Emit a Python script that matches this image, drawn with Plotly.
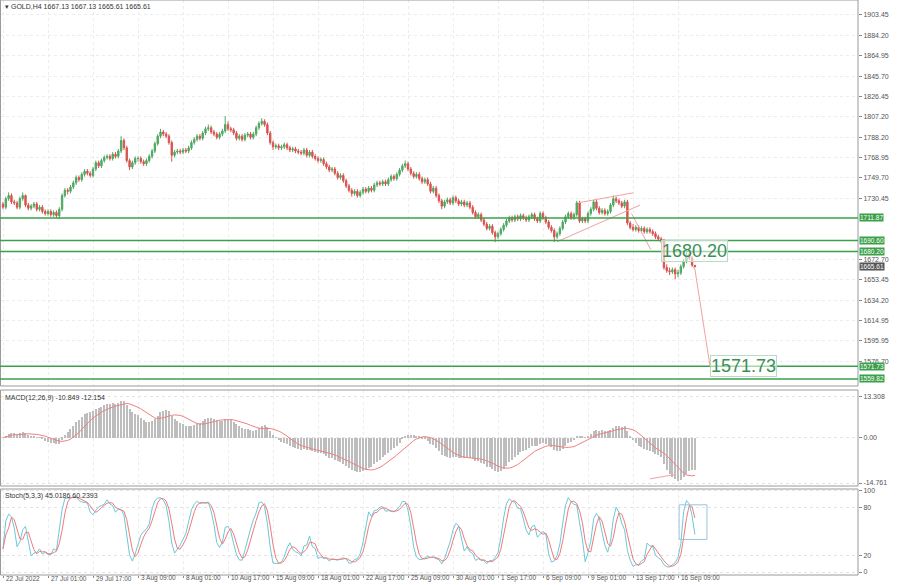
import numpy as np
import plotly.graph_objects as go

# ---------------- data (H4 bars) ----------------
opens = [1725,1722,1730,1733,1727,1726,1722,1730,1733,1724,
 1721,1723,1725,1720,1722,1718,1716,1718,1715,1717,
 1714,1720,1733,1738,1737,1741,1745,1750,1748,1753,
 1756,1754,1752,1758,1764,1761,1766,1769,1770,1768,
 1772,1770,1775,1785,1778,1766,1760,1764,1768,1768,
 1765,1763,1766,1770,1775,1782,1789,1793,1791,1789,
 1783,1771,1774,1775,1774,1776,1775,1778,1783,1786,
 1789,1787,1792,1796,1797,1793,1791,1788,1791,1794,
 1800,1796,1795,1792,1787,1789,1786,1790,1791,1788,
 1791,1797,1801,1803,1800,1792,1783,1779,1780,1778,
 1779,1781,1778,1776,1777,1775,1774,1773,1776,1771,
 1774,1770,1768,1766,1767,1763,1760,1757,1758,1754,
 1750,1752,1747,1742,1738,1735,1737,1733,1736,1739,
 1737,1740,1738,1743,1745,1744,1746,1744,1748,1751,
 1749,1753,1757,1761,1763,1758,1754,1751,1753,1749,
 1746,1748,1744,1737,1740,1733,1728,1723,1727,1729,
 1726,1731,1728,1725,1727,1724,1726,1722,1717,1713,
 1715,1710,1706,1702,1704,1698,1694,1697,1701,1705,
 1709,1712,1710,1713,1711,1714,1712,1710,1713,1715,
 1711,1709,1716,1712,1708,1703,1700,1694,1697,1702,
 1708,1713,1716,1712,1715,1726,1709,1711,1709,1716,
 1720,1727,1721,1717,1719,1716,1718,1724,1730,1728,
 1726,1723,1727,1707,1703,1701,1703,1700,1702,1699,
 1701,1699,1697,1694,1692,1690,1665,1662,1661,1663,
 1659,1660,1666,1671,1677,1674,1667.13]

highs = [1727,1732,1736,1735,1729,1728,1732,1736,1734,1726,
 1725,1727,1727,1724,1724,1720,1720,1720,1719,1719,
 1722,1735,1740,1740,1743,1747,1752,1752,1755,1758,
 1758,1756,1760,1766,1766,1768,1771,1772,1772,1774,
 1774,1777,1789,1787,1780,1768,1766,1770,1770,1770,
 1767,1768,1772,1777,1784,1791,1796,1795,1793,1791,
 1785,1776,1777,1777,1778,1778,1780,1785,1788,1791,
 1791,1794,1798,1800,1799,1795,1793,1793,1796,1808,
 1803,1798,1797,1794,1791,1791,1792,1793,1793,1793,
 1799,1803,1806,1805,1802,1794,1785,1782,1782,1781,
 1783,1783,1780,1779,1779,1777,1776,1778,1778,1776,
 1776,1772,1770,1769,1769,1765,1762,1760,1760,1756,
 1754,1754,1749,1744,1740,1739,1739,1738,1741,1741,
 1742,1742,1745,1747,1747,1748,1748,1750,1753,1753,
 1755,1759,1763,1766,1765,1760,1756,1755,1755,1751,
 1750,1750,1746,1742,1742,1735,1730,1729,1731,1731,
 1733,1733,1730,1729,1729,1728,1728,1724,1719,1717,
 1717,1712,1708,1706,1706,1700,1699,1703,1707,1711,
 1714,1714,1715,1715,1716,1716,1714,1715,1717,1717,
 1713,1718,1718,1714,1710,1705,1702,1699,1704,1710,
 1715,1718,1718,1717,1728,1728,1713,1713,1718,1722,
 1729,1729,1723,1721,1721,1720,1726,1733,1732,1730,
 1728,1729,1729,1709,1706,1705,1705,1704,1704,1703,
 1703,1701,1699,1696,1694,1692,1668,1665,1665,1665,
 1663,1668,1673,1680,1680,1676,1667.13]

lows = [1720,1720,1728,1725,1724,1720,1720,1728,1722,1719,
 1719,1721,1718,1718,1716,1714,1714,1713,1713,1712,
 1711,1718,1731,1734,1735,1739,1743,1746,1746,1751,
 1752,1750,1750,1756,1759,1759,1764,1767,1766,1766,
 1768,1768,1773,1776,1764,1757,1758,1762,1765,1763,
 1761,1761,1764,1768,1773,1780,1787,1789,1787,1781,
 1765,1769,1772,1772,1772,1773,1773,1776,1781,1784,
 1785,1785,1790,1794,1791,1789,1786,1786,1789,1792,
 1794,1793,1790,1785,1785,1784,1784,1788,1786,1786,
 1789,1795,1799,1798,1790,1781,1776,1777,1776,1776,
 1777,1776,1774,1774,1773,1772,1771,1771,1769,1769,
 1768,1766,1764,1764,1761,1758,1755,1755,1752,1748,
 1748,1745,1740,1736,1732,1733,1731,1731,1734,1735,
 1735,1736,1736,1741,1742,1742,1742,1742,1746,1747,
 1747,1751,1755,1759,1756,1752,1749,1749,1747,1744,
 1744,1742,1735,1735,1731,1726,1720,1721,1725,1724,
 1724,1726,1723,1723,1722,1722,1720,1715,1711,1711,
 1708,1704,1700,1700,1696,1689,1692,1695,1699,1703,
 1707,1708,1708,1709,1709,1710,1708,1708,1711,1709,
 1707,1707,1710,1706,1701,1698,1689,1692,1695,1700,
 1706,1711,1710,1710,1713,1707,1707,1707,1707,1714,
 1718,1719,1715,1715,1714,1714,1716,1722,1726,1724,
 1721,1721,1705,1701,1699,1699,1698,1698,1697,1697,
 1697,1695,1692,1690,1688,1663,1660,1658,1659,1654,
 1656,1658,1664,1669,1672,1666,1665.61]

closes = [1722,1730,1733,1727,1726,1722,1730,1733,1724,1721,
 1723,1725,1720,1722,1718,1716,1718,1715,1717,1714,
 1720,1733,1738,1737,1741,1745,1750,1748,1753,1756,
 1754,1752,1758,1764,1761,1766,1769,1770,1768,1772,
 1770,1775,1785,1778,1766,1760,1764,1768,1768,1765,
 1763,1766,1770,1775,1782,1789,1793,1791,1789,1783,
 1771,1774,1775,1774,1776,1775,1778,1783,1786,1789,
 1787,1792,1796,1797,1793,1791,1788,1791,1794,1800,
 1796,1795,1792,1787,1789,1786,1790,1791,1788,1791,
 1797,1801,1803,1800,1792,1783,1779,1780,1778,1779,
 1781,1778,1776,1777,1775,1774,1773,1776,1771,1774,
 1770,1768,1766,1767,1763,1760,1757,1758,1754,1750,
 1752,1747,1742,1738,1735,1737,1733,1736,1739,1737,
 1740,1738,1743,1745,1744,1746,1744,1748,1751,1749,
 1753,1757,1761,1763,1758,1754,1751,1753,1749,1746,
 1748,1744,1737,1740,1733,1728,1723,1727,1729,1726,
 1731,1728,1725,1727,1724,1726,1722,1717,1713,1715,
 1710,1706,1702,1704,1698,1694,1697,1701,1705,1709,
 1712,1710,1713,1711,1714,1712,1710,1713,1715,1711,
 1709,1716,1712,1708,1703,1700,1694,1697,1702,1708,
 1713,1716,1712,1715,1726,1709,1711,1709,1716,1720,
 1727,1721,1717,1719,1716,1718,1724,1730,1728,1726,
 1723,1727,1707,1703,1701,1703,1700,1702,1699,1701,
 1699,1697,1694,1692,1690,1665,1662,1661,1663,1659,
 1660,1666,1671,1677,1674,1667.13,1665.61]

bars = list(range(len(closes)))

tick_bars = [0,16,32,48,64,80,96,112,128,144,160,176,192,208,224,240]
tick_labels = ["22 Jul 2022","27 Jul 01:00","29 Jul 17:00","3 Aug 09:00","8 Aug 01:00",
               "10 Aug 17:00","15 Aug 09:00","18 Aug 01:00","22 Aug 17:00","25 Aug 09:00",
               "30 Aug 01:00","1 Sep 17:00","6 Sep 09:00","9 Sep 01:00","13 Sep 17:00","16 Sep 09:00"]

price_ticks = [1903.45,1884.20,1864.95,1845.70,1826.45,1807.20,1788.20,1768.95,1749.70,
               1730.45,1672.70,1653.45,1634.20,1614.95,1595.95,1576.70]
level_prices = [1711.87,1690.60,1680.20,1571.73,1559.82]
last_price = 1665.61
target_from = 1680.20
target_to = 1571.73

header_text = "▾ GOLD,H4 1667.13 1667.13 1665.61 1665.61"
macd_text = "MACD(12,26,9) -10.849 -12.154"
stoch_text = "Stoch(5,3,3) 45.0186 60.2393"

# trend lines drawn on the chart (bar index, price)
wedge_low = ([197, 226.5], [1689.4, 1724.0])
wedge_high = ([204.6, 224.1], [1726.2, 1735.6])
break_line = ([223.5, 230.3], [1716.0, 1682.0])
proj_line = ([244.8, 246.0, 251.4], [1667.0, 1663.6, 1571.7])
macd_div = ([230.0, 239.0], [-13.4, -12.0])
stoch_box = ([240.4, 250.3], [40.2, 82.9])

macd_ticks = [13.308, 0.0, -14.761]
macd_ticktext = ["13.308", "0.00", "-14.761"]
stoch_ticks = [0, 20, 80, 100]

# ---------------- indicators ----------------
c = np.array(closes, dtype=float)
h = np.array(highs, dtype=float)
l = np.array(lows, dtype=float)

def ema(x, n):
    a = 2.0 / (n + 1)
    out = np.empty_like(x)
    out[0] = x[0]
    for i in range(1, len(x)):
        out[i] = a * x[i] + (1 - a) * out[i - 1]
    return out

def sma(x, n):
    out = np.empty_like(x)
    for i in range(len(x)):
        out[i] = x[max(0, i - n + 1):i + 1].mean()
    return out

macd_main = ema(c, 12) - ema(c, 26)
macd_sig = sma(macd_main, 9)

num = np.empty_like(c)
den = np.empty_like(c)
for i in range(len(c)):
    hh = h[max(0, i - 4):i + 1].max()
    ll = l[max(0, i - 4):i + 1].min()
    num[i] = c[i] - ll
    den[i] = hh - ll
k = np.empty_like(c)
for i in range(len(c)):
    s = den[max(0, i - 2):i + 1].sum()
    k[i] = 100 * num[max(0, i - 2):i + 1].sum() / s if s > 0 else 50
d = sma(k, 3)

# ---------------- figure ----------------
W, H = 900, 585
PX = 858 / W
GREEN = "#3aa04a"
FONT = "Liberation Sans"

def py(p):
    return 1 - p / H

fig = go.Figure()

fig.add_trace(go.Candlestick(
    x=bars, open=opens, high=highs, low=lows, close=closes,
    increasing=dict(line=dict(color="#4fa860", width=1), fillcolor="#4fa860"),
    decreasing=dict(line=dict(color="#d9534f", width=1), fillcolor="#d9534f"),
    whiskerwidth=0, xaxis="x", yaxis="y", showlegend=False, hoverinfo="skip"))

for xs, ys in [wedge_low, wedge_high, break_line, proj_line]:
    fig.add_trace(go.Scatter(x=xs, y=ys, mode="lines", line=dict(color="#f4a0a0", width=1),
                             xaxis="x", yaxis="y", showlegend=False, hoverinfo="skip"))

fig.add_trace(go.Bar(x=bars, y=macd_main, marker=dict(color="#bdbdbd", line=dict(width=0)),
                     width=0.4, xaxis="x2", yaxis="y2", showlegend=False, hoverinfo="skip"))
fig.add_trace(go.Scatter(x=bars, y=macd_sig, mode="lines", line=dict(color="#f08080", width=1),
                         xaxis="x2", yaxis="y2", showlegend=False, hoverinfo="skip"))
fig.add_trace(go.Scatter(x=macd_div[0], y=macd_div[1], mode="lines", line=dict(color="#f4a0a0", width=1),
                         xaxis="x2", yaxis="y2", showlegend=False, hoverinfo="skip"))

fig.add_trace(go.Scatter(x=bars, y=k, mode="lines", line=dict(color="#6cc8d8", width=1),
                         xaxis="x3", yaxis="y3", showlegend=False, hoverinfo="skip"))
fig.add_trace(go.Scatter(x=bars, y=d, mode="lines", line=dict(color="#ee7b7b", width=1),
                         xaxis="x3", yaxis="y3", showlegend=False, hoverinfo="skip"))

xr = [-1.07, 304.0]
common_x = dict(range=xr, showgrid=True, gridcolor="#ececec", griddash="dot",
                tickvals=tick_bars, zeroline=False, automargin=False, fixedrange=True)
tickfont = dict(family=FONT, size=7, color="#555555")

fig.update_layout(
    width=W, height=H, margin=dict(l=0, r=0, t=0, b=0),
    paper_bgcolor="white", plot_bgcolor="white", bargap=0,
    xaxis=dict(domain=[0, PX], anchor="y", showticklabels=False, ticks="",
               rangeslider=dict(visible=False), **common_x),
    xaxis2=dict(domain=[0, PX], anchor="y2", showticklabels=False, ticks="", **common_x),
    xaxis3=dict(domain=[0, PX], anchor="y3", showticklabels=False,
                ticks="outside", ticklen=2, tickcolor="#888888", **common_x),
    yaxis=dict(domain=[py(386), 1.0], range=[1553.2, 1917.6], side="right", anchor="x",
               tickvals=price_ticks, ticktext=[f"{v:.2f}" for v in price_ticks],
               ticks="outside", ticklen=3, tickcolor="#888888", tickfont=tickfont,
               showgrid=True, gridcolor="#ececec", griddash="dot", zeroline=False,
               automargin=False, fixedrange=True),
    yaxis2=dict(domain=[py(486), py(390)], range=[-15.74, 15.59], side="right", anchor="x2",
                tickvals=macd_ticks, ticktext=macd_ticktext, ticks="outside", ticklen=3,
                tickcolor="#888888", tickfont=tickfont, showgrid=True, gridcolor="#e4e4e4",
                griddash="dot", zeroline=False, automargin=False, fixedrange=True),
    yaxis3=dict(domain=[py(575), py(489)], range=[-3.66, 102.4], side="right", anchor="x3",
                tickvals=stoch_ticks, ticks="outside", ticklen=3, tickcolor="#888888",
                tickfont=tickfont, showgrid=True, gridcolor="#e4e4e4", griddash="dot",
                zeroline=False, automargin=False, fixedrange=True),
)

shapes = []
for top, bot in [(0, 386), (390, 486), (489, 575)]:
    shapes.append(dict(type="rect", xref="paper", yref="paper", x0=0.5 / W, x1=PX,
                       y0=py(bot), y1=py(top), line=dict(color="#9a9a9a", width=1)))
for lv in level_prices:
    shapes.append(dict(type="line", xref="paper", yref="y", x0=0, x1=PX, y0=lv, y1=lv,
                       line=dict(color=GREEN, width=1.5)))
shapes.append(dict(type="rect", xref="x3", yref="y3", x0=stoch_box[0][0], x1=stoch_box[0][1],
                   y0=stoch_box[1][0], y1=stoch_box[1][1], line=dict(color="#9cc3dc", width=1)))
fig.update_layout(shapes=shapes)

ann = []
small = dict(family=FONT, size=7, color="#333333")
ann.append(dict(xref="paper", yref="paper", x=3 / W, y=py(1), xanchor="left", yanchor="top",
                text=header_text, showarrow=False, font=small))
ann.append(dict(xref="paper", yref="paper", x=3 / W, y=py(392), xanchor="left", yanchor="top",
                text=macd_text, showarrow=False, font=small))
ann.append(dict(xref="paper", yref="paper", x=3 / W, y=py(490), xanchor="left", yanchor="top",
                text=stoch_text, showarrow=False, font=small))
for tb, tl in zip(tick_bars, tick_labels):
    ann.append(dict(xref="x3", yref="paper", x=tb, y=py(584), xanchor="left", yanchor="bottom",
                    text=tl, showarrow=False, xshift=1,
                    font=dict(family=FONT, size=6.5, color="#555555")))
for lv in level_prices:
    ann.append(dict(xref="paper", yref="y", x=PX + 1 / W, y=lv, xanchor="left", yanchor="middle",
                    text=f"{lv:.2f}", showarrow=False, bgcolor=GREEN, borderpad=0,
                    font=dict(family=FONT, size=6.5, color="white")))
ann.append(dict(xref="paper", yref="y", x=PX + 1 / W, y=last_price, xanchor="left", yanchor="middle",
                text=f"{last_price:.2f}", showarrow=False, bgcolor="#555555", borderpad=0,
                font=dict(family=FONT, size=6.5, color="white")))
ann.append(dict(xref="x", yref="y", x=246.0, y=target_from, xanchor="center", yanchor="middle",
                text=f"{target_from:.2f}", showarrow=False, bgcolor="rgba(255,255,255,0.55)",
                bordercolor="#bcd9c4", borderwidth=1, borderpad=0,
                font=dict(family=FONT, size=18, color="#3a8f55")))
ann.append(dict(xref="x", yref="y", x=263.2, y=target_to, xanchor="center", yanchor="middle",
                text=f"{target_to:.2f}", showarrow=False, bgcolor="rgba(255,255,255,0.55)",
                bordercolor="#bcd9c4", borderwidth=1, borderpad=0,
                font=dict(family=FONT, size=18, color="#3a8f55")))
fig.update_layout(annotations=ann)

fig.write_html("out.html", config={"displayModeBar": False},
               post_script="document.body.style.margin='0';document.body.style.padding='0';")
